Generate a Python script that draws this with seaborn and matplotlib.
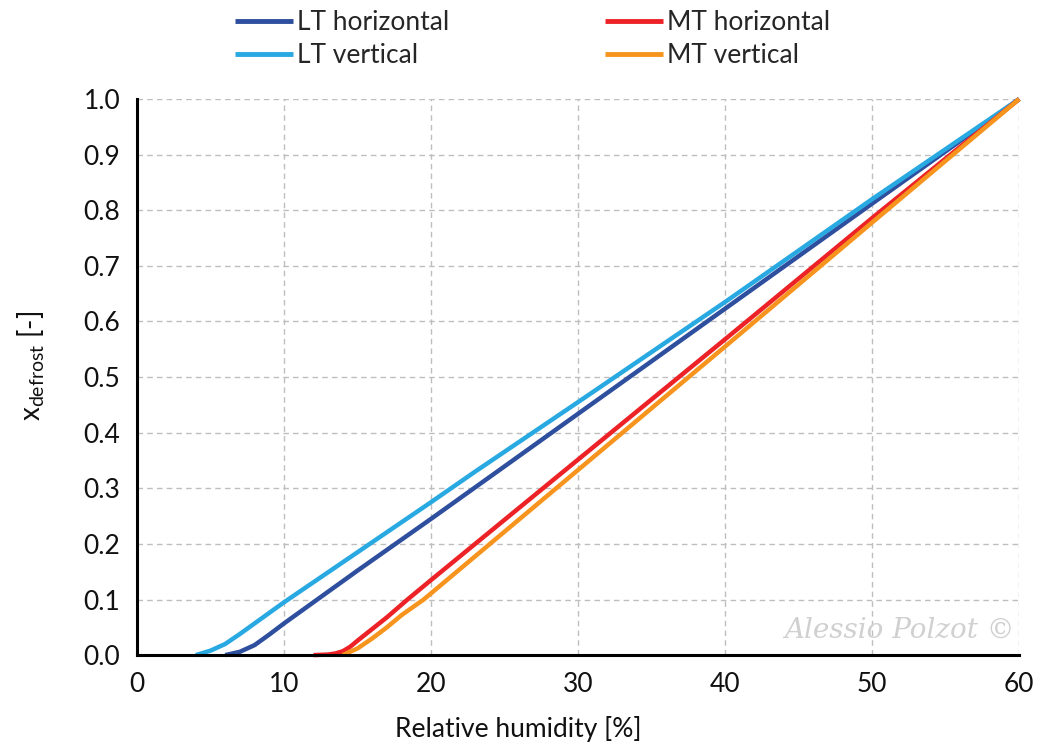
import matplotlib
matplotlib.use("Agg")
import matplotlib.pyplot as plt
import seaborn as sns
import pandas as pd
import numpy as np

# ---- data ----
lt_h_x = [6, 7, 8, 9, 10, 15, 20, 24.5, 30, 40, 50, 60]
lt_h_y = [0.0, 0.006, 0.018, 0.037, 0.057, 0.152, 0.245, 0.33, 0.434, 0.623, 0.812, 1.0]

lt_v_x = [4, 5, 6, 7, 8, 10, 15, 20, 23, 30, 40, 50, 60]
lt_v_y = [0.0, 0.008, 0.02, 0.038, 0.057, 0.095, 0.185, 0.275, 0.33, 0.455, 0.635, 0.82, 1.0]

mt_h_x = [12, 13, 13.5, 14, 14.5, 15, 16, 17, 18.4, 20, 29, 40, 50, 60]
mt_h_y = [0.0, 0.001, 0.003, 0.007, 0.015, 0.026, 0.047, 0.068, 0.1, 0.135, 0.33, 0.568, 0.786, 1.0]

mt_v_x = [14, 15, 16, 17, 18, 19.5, 30, 40, 50, 60]
mt_v_y = [0.0, 0.012, 0.03, 0.05, 0.072, 0.1, 0.333, 0.555, 0.778, 1.0]

series_names = ["LT horizontal", "LT vertical", "MT horizontal", "MT vertical"]
series_colors = ["#2E4E9E", "#29A9E1", "#EC2227", "#F7941D"]

x_ticks = [0, 10, 20, 30, 40, 50, 60]
y_ticks = [0.0, 0.1, 0.2, 0.3, 0.4, 0.5, 0.6, 0.7, 0.8, 0.9, 1.0]

x_label = "Relative humidity [%]"
y_label = r"x$_{\mathrm{defrost}}$ [-]"
watermark = "Alessio Polzot ©"

# ---- build long table ----
frames = []
for name, xs, ys in zip(series_names,
                        [lt_h_x, lt_v_x, mt_h_x, mt_v_x],
                        [lt_h_y, lt_v_y, mt_h_y, mt_v_y]):
    frames.append(pd.DataFrame({"rh": xs, "x": ys, "series": name}))
df = pd.concat(frames, ignore_index=True)

sns.set_theme(style="white")
plt.rcParams["font.family"] = ["Lato", "DejaVu Sans"]
plt.rcParams["mathtext.fontset"] = "custom"
plt.rcParams["mathtext.rm"] = "Lato"
plt.rcParams["mathtext.it"] = "Lato:italic"

fig = plt.figure(figsize=(10.4, 7.53), dpi=100)
ax = fig.add_axes([0.1317, 0.130, 0.8483, 0.7385])

sns.lineplot(data=df, x="rh", y="x", hue="series", hue_order=series_names,
             palette=dict(zip(series_names, series_colors)),
             estimator=None, sort=True, linewidth=3.2, ax=ax, legend=True)
for ln in ax.get_lines():
    ln.set_clip_on(False)
    ln.set_solid_capstyle("butt")
    ln.set_solid_joinstyle("round")

ax.set_xlim(0, 60)
ax.set_ylim(0, 1.0)
ax.set_xticks(x_ticks)
ax.set_yticks(y_ticks)
ax.set_xticklabels([str(t) for t in x_ticks], fontsize=19, color="#111111")
ax.set_yticklabels([f"{t:.1f}" for t in y_ticks], fontsize=19, color="#111111")
ax.tick_params(axis="both", length=0, pad=12)

ax.grid(True, which="major", linestyle=(0, (4, 3)), color="#BEBEBE", linewidth=1.0)
ax.set_axisbelow(True)

for s in ["top", "right"]:
    ax.spines[s].set_visible(False)
for s in ["left", "bottom"]:
    ax.spines[s].set_color("black")
    ax.spines[s].set_linewidth(2.2)
    ax.spines[s].set_zorder(5)

ax.set_xlabel(x_label, fontsize=19, color="#111111")
ax.xaxis.set_label_coords(0.432, -0.11)
ax.set_ylabel(y_label, fontsize=20, color="#111111")
ax.yaxis.set_label_coords(-0.102, 0.52)

leg = ax.legend(loc="lower left", bbox_to_anchor=(0.099, 1.036), ncol=2,
                frameon=False, fontsize=19, handlelength=2.2, handletextpad=0.15,
                columnspacing=5.9, labelspacing=0.33, borderaxespad=0)
for h in leg.get_lines():
    h.set_linewidth(3.5)

ax.text(0.995, 0.02, watermark, transform=ax.transAxes, ha="right", va="bottom",
        fontsize=20, color="#D0D0D0", family=["DejaVu Serif"], style="italic",
        zorder=1)

fig.savefig("out.png", dpi=100)
